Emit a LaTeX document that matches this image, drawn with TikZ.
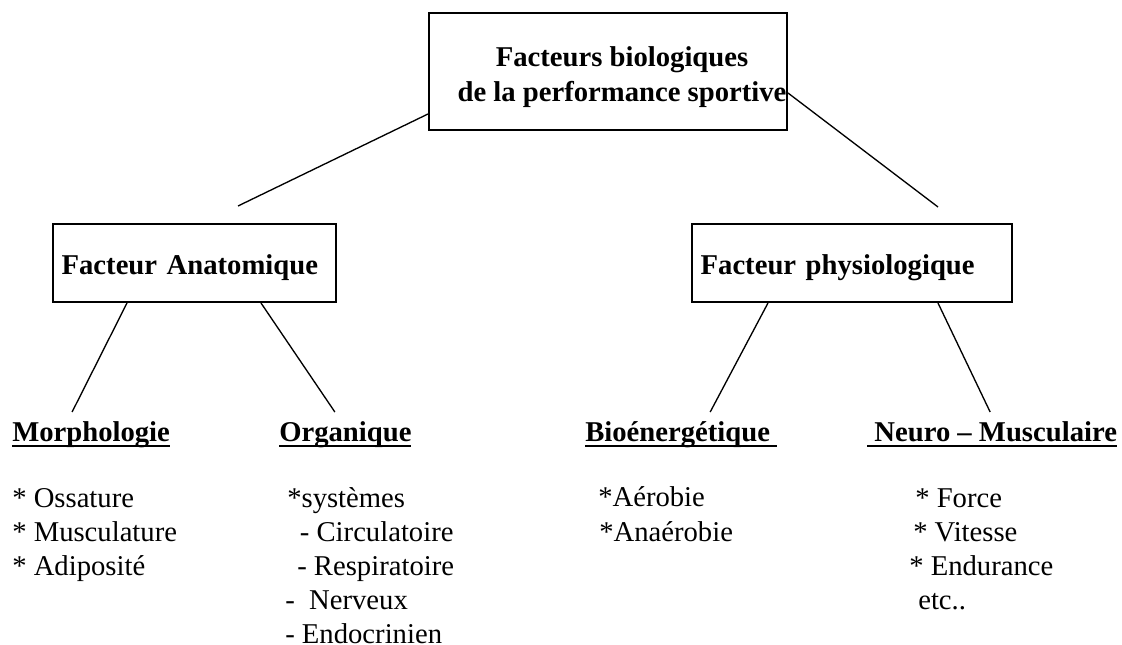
\documentclass[tikz,border=0pt]{standalone}
\usepackage{fontspec}
\setmainfont{Liberation Serif}
\usetikzlibrary{calc}

\newcommand{\ulword}[1]{\sbox0{#1}\rlap{\rule[-4.2pt]{\wd0}{1.4pt}}\usebox0}

\begin{document}
\begin{tikzpicture}[
    x=0.75pt, y=-0.75pt,
    every node/.style={font=\fontsize{21.5}{25.5}\selectfont},
    titlebox/.style={rectangle, draw=black, line width=1.5pt, minimum width=268.5pt, minimum height=87.75pt},
    factor/.style={rectangle, draw=black, line width=1.5pt, minimum height=58.5pt, inner xsep=6.5pt, align=left, text height=22pt, text depth=4.7pt, font=\fontsize{21.5}{25.5}\selectfont\bfseries},
    heading/.style={inner sep=0pt, anchor=base west, font=\fontsize{21.5}{25.5}\selectfont\bfseries},
    items/.style={inner sep=0pt, anchor=base west, align=left},
    link/.style={line width=1pt}
]
\useasboundingbox (0,0) rectangle (1122,645);

% Root
\node[titlebox] (root) at (608,71.5) {};
\node[inner sep=0pt, anchor=base, align=center, font=\fontsize{21.5}{26.25}\selectfont\bfseries] (rootlabel) at (622,102) {Facteurs biologiques\\de la performance sportive};

% Factors
\node[factor, text width=199.3pt] (anat) at (194.5,263) {Facteur Anatomique};
\node[factor, text width=227pt] (phys) at (852,263) {Facteur physiologique};

% Headings
\node[heading] (morph) at (12,441) {\ulword{Morphologie}};
\node[heading] (organ) at (279,441) {\ulword{Organique}};
\node[heading] (bio) at (585,441) {\ulword{Bioénergétique\ }};
\node[heading] (neuro) at (867,441) {\ulword{\ Neuro – Musculaire}};

% Lists (anchored on their last line)
\node[items] (morphlist) at (12,575) {* Ossature\\* Musculature\\* Adiposité};
\node[items] (organlist) at (285,643) {\hspace{1.5pt}*systèmes\\\hspace{11pt}- Circulatoire\\\hspace{9pt}- Respiratoire\\-\ \ Nerveux\\- Endocrinien};
\node[items] (biolist) at (598,541) {*Aérobie\\\hspace{0.75pt}*Anaérobie};
\node[items] (neurolist) at (909,609) {\hspace{4.5pt}* Force\\\hspace{3pt}* Vitesse\\* Endurance\\\hspace{6.75pt}etc..};

% Links
\draw[link] ($(root.south west)+(0,-17)$) -- ($(anat.north)+(43.5,-17)$);
\draw[link] ($(root.east)+(0,21.5)$) -- ($(phys.north)+(86,-16)$);
\draw[link] ($(anat.south)+(-67.5,0)$) -- ($(morph.base)+(-19,-29)$);
\draw[link] ($(anat.south)+(66.5,0)$) -- ($(organ.base)+(-10.5,-29)$);
\draw[link] ($(phys.south)+(-84,0)$) -- ($(bio.base)+(29,-29)$);
\draw[link] ($(phys.south)+(86,0)$) -- ($(neuro.base)+(-2,-29)$);

\end{tikzpicture}
\end{document}
